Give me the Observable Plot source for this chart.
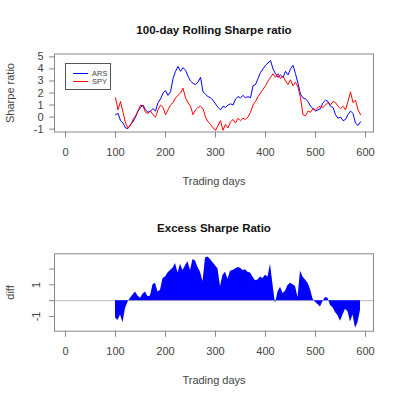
<!DOCTYPE html>
<html><head><meta charset="utf-8">
<script src="https://cdn.jsdelivr.net/npm/d3@7"></script>
<script src="https://cdn.jsdelivr.net/npm/@observablehq/plot@0.6"></script>
<style>
body{margin:0;background:#fff;font-family:"Liberation Sans",Arial,sans-serif;}
#wrap{position:relative;width:400px;height:399px;overflow:hidden;}
#wrap svg{display:block}
.legend{position:absolute;left:65px;top:63px;width:46px;height:27px;border:1px solid #555;background:#fff;font-size:7.5px;color:#444;box-sizing:border-box;}
.legend .row{position:absolute;left:0;height:8px;width:44px;}
.legend .seg{position:absolute;left:7px;width:15px;top:4px;height:1px;}
.legend .lab{position:absolute;left:26px;top:0px;line-height:9px;}
</style>
</head><body>
<div id="wrap"></div>
<script>
// Trading day index of each sample
const days = [100,105,110,115,120,125,130,135,140,145,150,155,160,165,170,175,180,185,190,195,
200,205,210,215,220,225,230,235,240,245,250,255,260,265,270,275,280,285,290,295,
300,305,310,315,320,325,330,335,340,345,350,355,360,365,370,375,380,385,390,395,
400,405,410,415,420,425,430,435,440,445,450,455,460,465,470,475,480,485,490,495,
500,505,510,515,520,525,530,535,540,545,550,555,560,565,570,575,580,585,590];

// 100-day rolling Sharpe ratio, ARS
const arsValues = [0.2,0.3,-0.3,-0.5,-0.9,-0.95,-0.6,-0.4,0.0,0.5,0.8,1.0,0.6,0.4,0.5,0.7,0.5,1.2,1.5,2.0,
2.2,1.8,2.1,3.2,3.8,4.2,3.8,4.1,3.9,3.4,3.0,2.8,2.7,2.9,3.3,2.1,1.9,1.7,1.6,1.4,
1.1,0.8,0.6,0.9,0.8,1.0,1.1,1.0,1.5,1.7,1.6,1.8,1.6,1.7,1.6,2.6,2.7,3.2,3.7,4.0,
4.3,4.5,4.7,4.0,3.6,3.3,3.5,3.3,3.8,3.5,4.0,4.3,3.6,2.8,1.9,1.6,1.5,1.3,0.9,0.7,
0.5,0.6,0.7,1.2,1.4,1.3,0.9,0.8,0.2,-0.1,0.0,-0.3,-0.2,0.2,0.5,0.3,-0.5,-0.7,-0.4];

// 100-day rolling Sharpe ratio, SPY
const spyValues = [1.6,0.6,1.3,0.4,-0.5,-0.9,-0.7,-0.2,0.1,0.5,1.0,0.9,0.4,0.3,0.5,0.2,0.0,0.6,1.0,0.8,
0.2,0.6,1.0,1.2,1.6,1.8,2.0,2.4,1.6,1.2,0.9,0.2,0.6,0.8,0.9,0.7,0.0,-0.4,-0.6,-0.9,
-1.1,-0.7,-0.3,-1.1,-0.6,-0.9,-0.4,-0.2,-0.5,-0.1,-0.3,-0.1,-0.2,0.0,0.4,1.0,1.3,1.7,2.0,2.3,
2.6,3.0,3.3,3.6,3.3,3.6,3.2,3.4,3.0,2.7,3.1,2.6,2.9,2.5,1.6,0.2,0.1,0.5,0.4,0.7,
0.6,0.8,0.9,0.8,1.0,1.2,1.0,1.3,1.2,0.9,0.7,0.9,0.6,1.3,2.1,1.2,1.4,0.6,0.2];

// Excess Sharpe ratio (diff)
const diffValues = [-1.1,-1.25,-0.9,-1.4,-0.5,-0.1,0.15,0.35,0.55,0.3,0.15,0.4,0.55,0.25,0.3,1.0,1.1,0.55,0.65,1.4,
1.5,1.75,1.9,2.05,2.35,1.75,2.3,1.9,2.2,2.45,1.9,2.6,2.5,2.1,1.8,1.2,2.7,2.75,2.6,2.4,
2.2,2.0,0.9,1.6,1.8,1.35,1.85,1.9,2.0,2.1,2.05,1.9,1.95,1.8,1.75,1.5,1.25,1.3,1.5,1.4,
1.6,1.5,2.3,1.0,-0.2,0.55,0.85,0.45,0.6,0.95,1.1,1.0,0.9,0.2,1.85,1.5,1.3,1.1,0.7,0.1,
-0.1,-0.25,-0.4,-0.05,0.2,0.15,-0.3,-0.45,-0.75,-0.95,-1.3,-0.9,-0.55,-0.7,-1.35,-0.9,-1.75,-1.4,-0.6];

const xTicks = [0,100,200,300,400,500,600];
const topYTicks = [-1,0,1,2,3,4,5];
const diffYTicks = [-1,0,1,2];
const diffYLabeled = [-1,1];
const seriesNames = ["ARS","SPY"];
const seriesColors = ["blue","red"];

const ars = days.map((d,i)=>({day:d, value:arsValues[i]}));
const spy = days.map((d,i)=>({day:d, value:spyValues[i]}));
const diff = days.map((d,i)=>({day:d, value:diffValues[i]}));

const font = "Liberation Sans, Arial, sans-serif";
const style = {fontFamily:font, fontSize:"11px", color:"#444", background:"white", overflow:"visible"};

const topChart = Plot.plot({
  width:400, height:200, marginLeft:54, marginRight:27, marginTop:53.5, marginBottom:68.5,
  style,
  x:{domain:[-22,616]},
  y:{domain:[-1.24,5.24]},
  marks:[
    Plot.lineY(ars, {x:"day", y:"value", stroke:seriesColors[0], strokeWidth:1}),
    Plot.lineY(spy, {x:"day", y:"value", stroke:seriesColors[1], strokeWidth:1}),
    Plot.frame({stroke:"#888"}),
    Plot.axisX({ticks:xTicks, tickSize:6, tickPadding:10, label:null, stroke:"#888", fill:"#444"}),
    Plot.axisY({ticks:topYTicks, tickSize:5, tickPadding:6, label:null, stroke:"#888", fill:"#444", tickFormat:d=>String(d)}),
    Plot.text(["100-day Rolling Sharpe ratio"], {text:d=>d, frameAnchor:"top", lineAnchor:"middle", dy:-23.5, fontWeight:"bold", fontSize:11.5, fill:"#111"}),
    Plot.text(["Trading days"], {text:d=>d, frameAnchor:"bottom", lineAnchor:"middle", dy:49.5, fill:"#444"}),
    Plot.text(["Sharpe ratio"], {text:d=>d, frameAnchor:"left", textAnchor:"middle", lineAnchor:"middle", dx:-44, rotate:-90, fill:"#444"})
  ]
});

const bottomChart = Plot.plot({
  width:400, height:199, marginLeft:54, marginRight:27, marginTop:53.3, marginBottom:68.3,
  style,
  x:{domain:[-22,616]},
  y:{domain:[-1.93,2.96]},
  marks:[
    Plot.ruleY([0], {stroke:"#bbb"}),
    Plot.areaY(diff, {x:"day", y:"value", fill:"blue"}),
    Plot.frame({stroke:"#888"}),
    Plot.axisX({ticks:xTicks, tickSize:6, tickPadding:10, label:null, stroke:"#888", fill:"#444"}),
    Plot.axisY({ticks:diffYTicks, tickSize:5, tickRotate:-90, tickPadding:10, label:null, stroke:"#888", fill:"#444",
      tickFormat:d=>diffYLabeled.includes(d)?String(d):""}),
    Plot.text(["Excess Sharpe Ratio"], {text:d=>d, frameAnchor:"top", lineAnchor:"middle", dy:-25, fontWeight:"bold", fontSize:11.5, fill:"#111"}),
    Plot.text(["Trading days"], {text:d=>d, frameAnchor:"bottom", lineAnchor:"middle", dy:49.5, fill:"#444"}),
    Plot.text(["diff"], {text:d=>d, frameAnchor:"left", textAnchor:"middle", lineAnchor:"middle", dx:-44, rotate:-90, fill:"#444"})
  ]
});

const wrap = document.getElementById("wrap");
wrap.appendChild(topChart);
wrap.appendChild(bottomChart);

const legend = document.createElement("div");
legend.className = "legend";
seriesNames.forEach((name,i)=>{
  const row = document.createElement("div");
  row.className = "row";
  row.style.top = (5 + i*7.5) + "px";
  const seg = document.createElement("div");
  seg.className = "seg";
  seg.style.background = seriesColors[i];
  const lab = document.createElement("div");
  lab.className = "lab";
  lab.textContent = name;
  row.appendChild(seg); row.appendChild(lab);
  legend.appendChild(row);
});
wrap.appendChild(legend);
</script>
</body></html>
